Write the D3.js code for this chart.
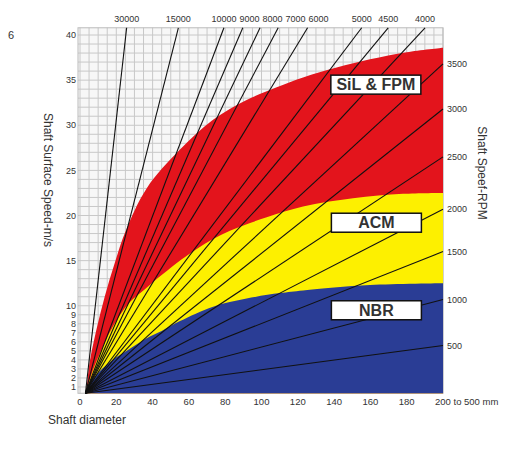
<!DOCTYPE html>
<html>
<head>
<meta charset="utf-8">
<script src="https://cdn.jsdelivr.net/npm/d3@7"></script>
<style>
  html, body { margin: 0; padding: 0; background: #fff; }
  svg { display: block; }
  text { font-family: "Liberation Sans", Arial, sans-serif; fill: #333; }
</style>
</head>
<body>
<svg id="chart" width="527" height="475"></svg>
<script>
// ---------- data ----------
const diameterTicks = [0, 20, 40, 60, 80, 100, 120, 140, 160, 180];
const lastDiameterLabel = "200 to 500 mm";
const speedTicks = [1, 2, 3, 4, 5, 6, 7, 8, 9, 10, 15, 20, 25, 30, 35, 40];

// RPM lines that leave through the top of the grid: diameter (mm) where they cross the top edge
const topRpm = [30000, 15000, 10000, 9000, 8000, 7000, 6000, 5000, 4500, 4000];
const topRpmDiameter = [25.7, 54.2, 79.3, 89.7, 99.2, 109.2, 125.4, 155.2, 169.8, 190.1];

// RPM lines that leave through the right edge (200 mm): speed (m/s) there
const rightRpm = [3500, 3000, 2500, 2000, 1500, 1000, 500];
const rightRpmSpeed = [36.8, 31.8, 26.5, 20.7, 16.0, 10.7, 5.6];

// common point where the fan of RPM lines starts
const fanOriginDiameter = 3;
const fanOriginSpeed = 0.3;

// material limit curves (diameter mm, speed m/s)
const silFpmDiameter = [3, 3.5, 5.3, 9.0, 13.6, 19.1, 25, 36.7, 55.1, 73.3, 91.8, 108.4, 122.9, 141.4, 159.8, 180, 200];
const silFpmSpeed    = [0.3, 0.7, 3.7, 7.3, 11.0, 14.7, 18.2, 23.0, 27.3, 30.6, 32.8, 34.2, 35.3, 36.4, 37.3, 38.1, 38.6];

const acmDiameter = [3, 7.2, 11.8, 17.3, 27, 35.6, 45, 64.3, 82.6, 102.9, 122.9, 150.4, 178, 200];
const acmSpeed    = [0.3, 2.9, 5.1, 7.4, 10.3, 11.8, 13.4, 16.3, 18.3, 19.8, 21.0, 21.9, 22.4, 22.5];

const nbrDiameter = [3, 8, 17.3, 26.4, 36.7, 45, 55.1, 73.3, 91.8, 110.2, 122.9, 159.8, 200];
const nbrSpeed    = [0.3, 2.1, 3.9, 5.1, 6.4, 7.2, 8.3, 9.9, 10.8, 11.4, 11.7, 12.3, 12.5];

const materials = ["SiL & FPM", "ACM", "NBR"];
const materialColors = ["#e3141c", "#fdf000", "#2a3d95"];

// ---------- layout ----------
const svg = d3.select("#chart");
const x = d3.scaleLinear().domain([0, 200]).range([80, 443]);
const y = d3.scaleLinear().domain([0, 40]).range([396, 35]);
const gridTop = 40.8, gridBottom = 0.3;

// grid
const g = svg.append("g");
g.append("rect")
  .attr("x", x(0) - 2).attr("y", y(gridTop))
  .attr("width", x(200) - x(0) + 2).attr("height", y(gridBottom) - y(gridTop))
  .attr("fill", "#f7f7f7");
const vGrid = d3.range(0, 201, 5);
g.selectAll(".vg").data(vGrid).join("line")
  .attr("x1", d => x(d)).attr("x2", d => x(d))
  .attr("y1", y(gridTop)).attr("y2", y(gridBottom))
  .attr("stroke", "#c8c8c8").attr("stroke-width", 1);
const hGrid = d3.range(1, 41, 1);
g.selectAll(".hg").data(hGrid).join("line")
  .attr("x1", x(0) - 2).attr("x2", x(200))
  .attr("y1", d => y(d)).attr("y2", d => y(d))
  .attr("stroke", "#c8c8c8").attr("stroke-width", 1);
g.append("rect")
  .attr("x", x(0) - 2).attr("y", y(gridTop))
  .attr("width", x(200) - x(0) + 2).attr("height", y(gridBottom) - y(gridTop))
  .attr("fill", "none").attr("stroke", "#bbb");

// material areas
const curves = [
  d3.zip(silFpmDiameter, silFpmSpeed),
  d3.zip(acmDiameter, acmSpeed),
  d3.zip(nbrDiameter, nbrSpeed)
];
const area = d3.area()
  .x(d => x(d[0]))
  .y0(y(gridBottom))
  .y1(d => y(d[1]))
  .curve(d3.curveCatmullRom.alpha(0.5));
svg.append("g").selectAll("path").data(curves).join("path")
  .attr("d", area)
  .attr("fill", (d, i) => materialColors[i]);

// RPM lines
const lineG = svg.append("g");
const topEnds = topRpm.map((r, i) => ({ rpm: r, d: topRpmDiameter[i], v: gridTop }));
const rightEnds = rightRpm.map((r, i) => ({ rpm: r, d: 200, v: rightRpmSpeed[i] }));
lineG.selectAll("line").data(topEnds.concat(rightEnds)).join("line")
  .attr("x1", x(fanOriginDiameter)).attr("y1", y(fanOriginSpeed))
  .attr("x2", d => x(d.d)).attr("y2", d => y(d.v))
  .attr("stroke", "#111").attr("stroke-width", 1.1);

// top RPM labels with simple collision avoidance
let prevRight = -Infinity;
topEnds.forEach(e => {
  const t = svg.append("text").attr("font-size", 9).attr("text-anchor", "middle")
    .attr("y", 22).text(e.rpm);
  const w = t.node().getComputedTextLength();
  let cx = x(e.d);
  if (cx - w / 2 < prevRight + 3) cx = prevRight + 3 + w / 2;
  t.attr("x", cx);
  prevRight = cx + w / 2;
});

// right RPM labels
svg.append("g").selectAll("text").data(rightEnds).join("text")
  .attr("x", x(200) + 4).attr("y", d => y(d.v)).attr("dy", "0.35em")
  .attr("font-size", 9).text(d => d.rpm);

// left speed tick labels
svg.append("g").selectAll("text").data(speedTicks).join("text")
  .attr("x", 76).attr("y", d => y(d)).attr("dy", "0.35em")
  .attr("text-anchor", "end").attr("font-size", 9).text(d => d);

// bottom diameter tick labels
svg.append("g").selectAll("text").data(diameterTicks).join("text")
  .attr("x", d => x(d)).attr("y", 405)
  .attr("text-anchor", "middle").attr("font-size", 9.5).text(d => d);
svg.append("text").attr("x", x(200) - 8).attr("y", 405)
  .attr("font-size", 9.5).text(lastDiameterLabel);

// axis titles
svg.append("text").attr("x", 48).attr("y", 424).attr("font-size", 12)
  .attr("font-family", "'Open Sans', sans-serif").text("Shaft diameter");
svg.append("text")
  .attr("transform", "translate(48,180) rotate(90)")
  .attr("text-anchor", "middle").attr("dy", "0.35em").attr("font-size", 12)
  .attr("font-family", "'Open Sans', sans-serif").text("Shaft Surface Speed-m/s");
svg.append("text")
  .attr("transform", "translate(482,173) rotate(90)")
  .attr("text-anchor", "middle").attr("dy", "0.35em").attr("font-size", 12)
  .attr("font-family", "'Open Sans', sans-serif").text("Shaft Speef-RPM");
svg.append("text").attr("x", 8).attr("y", 39).attr("font-size", 11)
  .attr("font-family", "'DejaVu Serif', serif").attr("fill", "#555").text("6");

// material label boxes (positions in data units)
const boxCenters = [[163, 34.5], [163.3, 19.2], [163.3, 9.5]];
materials.forEach((m, i) => {
  const [cd, cv] = boxCenters[i];
  const bx = x(cd), by = y(cv);
  svg.append("rect").attr("x", bx - 45).attr("y", by - 9.5)
    .attr("width", 90).attr("height", 19)
    .attr("fill", "#fff").attr("stroke", "#111").attr("stroke-width", 1.5);
  svg.append("text").attr("x", bx).attr("y", by).attr("dy", "0.36em")
    .attr("text-anchor", "middle").attr("font-weight", "bold").attr("font-size", 16)
    .attr("fill", "#111").text(m);
});
</script>
</body>
</html>
